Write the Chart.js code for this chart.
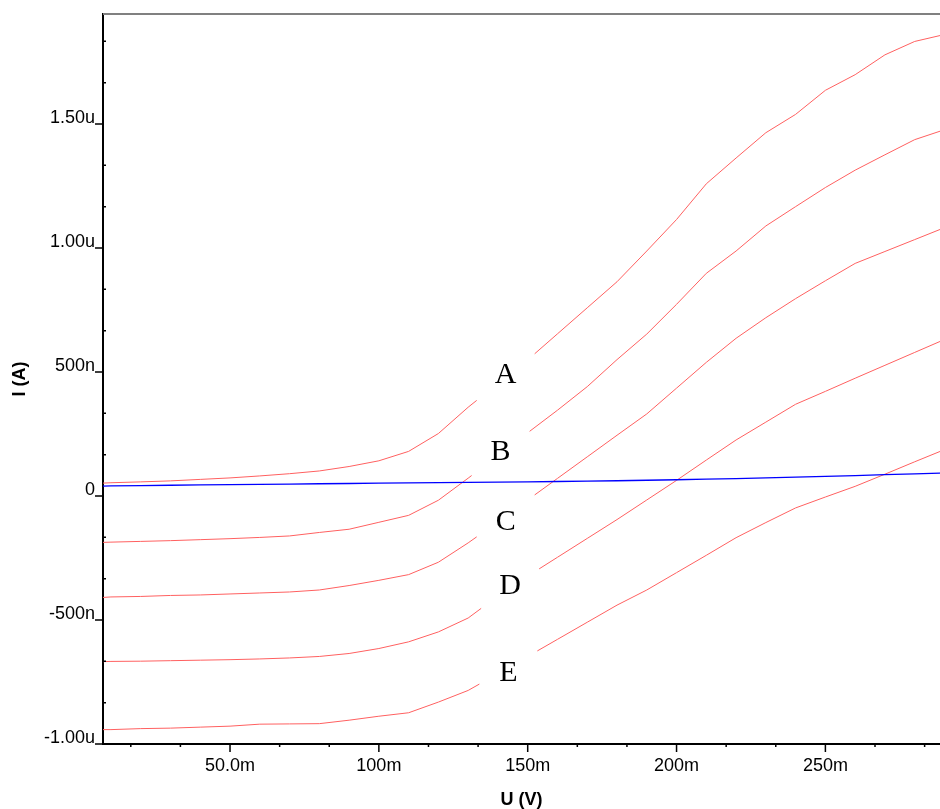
<!DOCTYPE html>
<html>
<head>
<meta charset="utf-8">
<title>I (A) x U (V)</title>
<script src="https://cdn.jsdelivr.net/npm/chart.js@4.4.1/dist/chart.umd.min.js"></script>
<style>
  html, body { margin: 0; padding: 0; background: #fff; }
  canvas { display: block; }
</style>
</head>
<body>
<canvas id="grafico" width="940" height="809"></canvas>
<script>
// varredura em mV, correntes em nA
const voltage = [7.3, 10, 20, 30, 40, 50, 60, 70, 80, 90, 100, 110, 120, 130, 140,
  150, 160, 170, 180, 190, 200, 210, 220, 230, 240, 250, 260, 270, 280, 290]

const curveA = [52, 53.5, 57, 61, 67, 73, 81, 90, 101, 119, 142, 180, 252, 358, 454,
  549, 654, 759, 864, 988, 1115, 1259, 1363, 1465, 1539, 1636, 1699, 1779, 1833, 1861]
const curveB = [-187, -186, -183, -180, -176, -172, -167, -161, -147, -134, -106, -78, -17, 72, 163,
  255, 346, 441, 550, 653, 773, 898, 988, 1089, 1167, 1244, 1314, 1376, 1437, 1477]
const curveC = [-409, -407, -405, -401, -399, -395, -391, -387, -379, -361, -340, -317, -267, -189, -104,
  -16, 71, 158, 245, 331, 435, 539, 636, 719, 796, 868, 938, 986, 1034, 1082]
const curveD = [-668, -667, -666, -664, -662, -660, -657, -653, -647, -635, -615, -588, -548, -492, -403,
  -323, -247, -171, -95, -16, 63, 145, 226, 298, 370, 422, 475, 527, 579, 631]
const curveE = [-942, -942, -938, -936, -932, -928, -920, -919, -918, -904, -888, -874, -831, -784, -716,
  -647, -578, -509, -440, -379, -309, -239, -168, -107, -48, -4, 39, 88, 138, 187]
const reference = [40, 40.5, 42, 43.5, 45, 46, 47, 48, 49.5, 50.5, 52, 53, 54, 55, 56,
  57, 58.5, 60, 61.5, 63.5, 65.5, 68, 70.5, 73, 76, 79, 82.5, 86, 89.5, 93]

const voltTicks = [50, 100, 150, 200, 250]
const ampTicks = [-1000, -500, 0, 500, 1000, 1500]

const curveNames = ['A', 'B', 'C', 'D', 'E']
const labelVolt = [142.6, 140.9, 142.6, 144.1, 143.5]
const labelAmp = [487, 177, -105, -363, -716]

const voltMin = 7.33
const voltMax = 288.5
const ampMin = -1000
const ampMax = 1943.7

const sans = '"Liberation Sans", Arial, sans-serif'
const grafico = document.getElementById('grafico')

function fmtVolt(v) {
  return Number(v).toPrecision(3) + 'm'
}

function fmtAmp(v) {
  if (v === 0) return '0'
  if (Math.abs(v) >= 1000) return (v / 1000).toFixed(2) + 'u'
  return v + 'n'
}

function pontos(serie) {
  return voltage.map((v, i) => ({ x: v, y: serie[i] }))
}

function curva(serie) {
  return {
    data: pontos(serie),
    borderColor: '#ff6060',
    borderWidth: 1,
    pointRadius: 0,
    tension: 0
  }
}

// subdivisões entre as marcas principais
function subMarcas(lista, min, max) {
  const passo = (lista[1] - lista[0]) / 3
  const out = []
  for (let k = Math.ceil(min / passo); k * passo <= max; k++) {
    if (k % 3 !== 0) out.push(k * passo)
  }
  return out
}

// marcas dos eixos: principais para fora, secundárias curtas
const marcas = {
  id: 'marcas',
  afterDraw(chart) {
    const { ctx, chartArea: area, scales: { x, y } } = chart
    ctx.save()

    ctx.strokeStyle = '#808080'
    ctx.lineWidth = 2
    ctx.beginPath()
    ctx.moveTo(area.left, area.top)
    ctx.lineTo(area.right, area.top)
    ctx.stroke()

    ctx.strokeStyle = '#000'
    ctx.lineWidth = 1.5
    ctx.beginPath()
    ampTicks.forEach(v => {
      const py = y.getPixelForValue(v)
      ctx.moveTo(area.left - 8, py)
      ctx.lineTo(area.left, py)
    })
    subMarcas(ampTicks, ampMin, ampMax).forEach(v => {
      const py = y.getPixelForValue(v)
      ctx.moveTo(area.left, py)
      ctx.lineTo(area.left + 3, py)
    })
    voltTicks.forEach(v => {
      const px = x.getPixelForValue(v)
      ctx.moveTo(px, area.bottom)
      ctx.lineTo(px, area.bottom + 8)
    })
    subMarcas(voltTicks, voltMin, voltMax).forEach(v => {
      const px = x.getPixelForValue(v)
      ctx.moveTo(px, area.bottom)
      ctx.lineTo(px, area.bottom + 3)
    })
    ctx.stroke()
    ctx.restore()
  }
}

// letras das curvas, com fundo branco interrompendo a linha
const rotulos = {
  id: 'rotulos',
  afterDatasetsDraw(chart) {
    const { ctx, scales: { x, y } } = chart
    ctx.save()
    ctx.font = '30px "Liberation Serif", "Times New Roman", serif'
    ctx.textAlign = 'center'
    ctx.textBaseline = 'middle'
    curveNames.forEach((nome, i) => {
      const px = x.getPixelForValue(labelVolt[i])
      const py = y.getPixelForValue(labelAmp[i])
      ctx.fillStyle = '#fff'
      ctx.fillRect(px - 29, py - 28, 58, 56)
      ctx.fillStyle = '#000'
      ctx.fillText(nome, px, py)
    })
    ctx.restore()
  }
}

new Chart(grafico, {
  type: 'line',
  data: {
    datasets: [
      {
        data: pontos(reference),
        borderColor: '#0000ff',
        borderWidth: 1.3,
        pointRadius: 0,
        tension: 0
      },
      curva(curveA),
      curva(curveB),
      curva(curveC),
      curva(curveD),
      curva(curveE)
    ]
  },
  options: {
    responsive: false,
    animation: false,
    devicePixelRatio: 1,
    layout: { padding: { top: 14, right: 0, bottom: 0, left: 0 } },
    plugins: {
      legend: { display: false },
      tooltip: { enabled: false }
    },
    scales: {
      x: {
        type: 'linear',
        min: voltMin,
        max: voltMax,
        afterBuildTicks: (s) => { s.ticks = voltTicks.map(v => ({ value: v })) },
        afterFit: (s) => {
          s.height = 65
          s.paddingLeft = 0
          s.paddingRight = 0
        },
        grid: { display: false, drawTicks: false },
        border: { color: '#000', width: 2 },
        ticks: {
          autoSkip: false,
          maxRotation: 0,
          padding: 11,
          color: '#000',
          font: { family: sans, size: 18 },
          callback: fmtVolt
        },
        title: {
          display: true,
          text: 'U (V)',
          color: '#000',
          padding: 0,
          font: { family: sans, size: 18, weight: 'bold', lineHeight: 1 }
        }
      },
      y: {
        type: 'linear',
        min: ampMin,
        max: ampMax,
        afterBuildTicks: (s) => { s.ticks = ampTicks.map(v => ({ value: v })) },
        afterFit: (s) => {
          s.width = 103
          s.paddingTop = 0
          s.paddingBottom = 0
        },
        grid: { display: false, drawTicks: false },
        border: { color: '#000', width: 2 },
        ticks: {
          autoSkip: false,
          padding: 8,
          labelOffset: -6,
          color: '#000',
          font: { family: sans, size: 18 },
          callback: fmtAmp
        },
        title: {
          display: true,
          text: 'I (A)',
          color: '#000',
          padding: { top: 11, bottom: 0 },
          font: { family: sans, size: 18, weight: 'bold', lineHeight: 1 }
        }
      }
    }
  },
  plugins: [marcas, rotulos]
})
</script>
</body>
</html>
